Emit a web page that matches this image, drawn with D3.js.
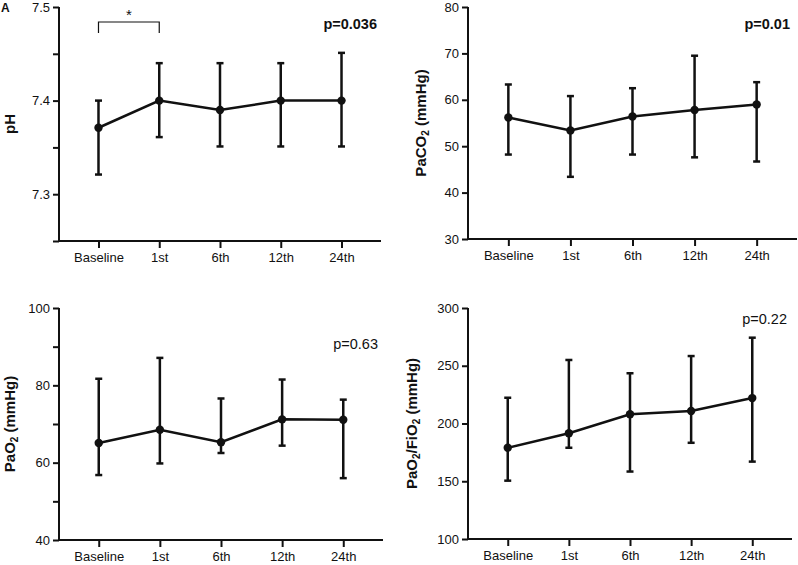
<!DOCTYPE html>
<html><head><meta charset="utf-8">
<script src="https://cdn.jsdelivr.net/npm/d3@7/dist/d3.min.js"></script>
<style>
body{margin:0;background:#fff;}
text{font-family:"Liberation Sans",Arial,Helvetica,sans-serif;}
</style></head>
<body><svg id="c" width="798" height="565"></svg>
<script>
const categories = ["Baseline","1st","6th","12th","24th"];

const phMean = [7.371,7.40,7.39,7.40,7.40];
const phLow  = [7.321,7.361,7.351,7.351,7.351];
const phHigh = [7.40,7.44,7.44,7.44,7.451];

const paco2Mean = [56.2,53.4,56.4,57.8,59.0];
const paco2Low  = [48.2,43.4,48.2,47.6,46.7];
const paco2High = [63.3,60.8,62.5,69.5,63.8];

const pao2Mean = [65.1,68.5,65.3,71.2,71.1];
const pao2Low  = [56.8,59.8,62.5,64.4,56.0];
const pao2High = [81.7,87.1,76.6,81.5,76.3];

const pfMean = [179,191.5,208,210.8,222];
const pfLow  = [150.5,179,158.4,183.3,167];
const pfHigh = [222.3,255,243.5,258.4,274.3];

const phTicks = [7.25,7.3,7.35,7.4,7.45,7.5];
const phLabels = [7.3,7.4,7.5];
const paco2Ticks = [30,40,50,60,70,80];
const pao2Ticks = [40,50,60,70,80,90,100];
const pao2Labels = [40,60,80,100];
const pfTicks = [100,150,200,250,300];

const svg = d3.select("#c");

const panels = [
  {mean:phMean, low:phLow, high:phHigh, domain:[7.25,7.5], ticks:phTicks, labels:phLabels, fmt:d3.format(".1f"),
   x:[59,381], y:[241,7], ylab:["pH"], ylabX:13, p:"p=0.036", pBold:true, pX:377, pY:29, sig:true},
  {mean:paco2Mean, low:paco2Low, high:paco2High, domain:[30,80], ticks:paco2Ticks, labels:paco2Ticks, fmt:d3.format("d"),
   x:[468,797], y:[239,7], ylab:["PaCO","2"," (mmHg)"], ylabX:424, p:"p=0.01", pBold:true, pX:790, pY:29},
  {mean:pao2Mean, low:pao2Low, high:pao2High, domain:[40,100], ticks:pao2Ticks, labels:pao2Labels, fmt:d3.format("d"),
   x:[59,383], y:[540,308], ylab:["PaO","2"," (mmHg)"], ylabX:13, p:"p=0.63", pBold:false, pX:378, pY:349},
  {mean:pfMean, low:pfLow, high:pfHigh, domain:[100,300], ticks:pfTicks, labels:pfTicks, fmt:d3.format("d"),
   x:[468,792], y:[539,308], ylab:["PaO","2","/FiO","2"," (mmHg)"], ylabX:415, p:"p=0.22", pBold:false, pX:787, pY:324}
];

panels.forEach(P => {
  const g = svg.append("g");
  const xs = d3.scalePoint().domain(categories).range(P.x).padding(0.65);
  const ys = d3.scaleLinear().domain(P.domain).range(P.y);

  const ya = g.append("g").attr("transform",`translate(${P.x[0]},0)`)
    .call(d3.axisLeft(ys).tickValues(P.ticks).tickSize(6).tickSizeOuter(0).tickPadding(3)
      .tickFormat(d => P.labels.some(l => Math.abs(l-d)<1e-9) ? P.fmt(d) : ""));
  const xa = g.append("g").attr("transform",`translate(0,${P.y[0]})`)
    .call(d3.axisBottom(xs).tickSize(7).tickSizeOuter(0).tickPadding(5));
  [ya,xa].forEach(a => {
    a.selectAll("path.domain").attr("stroke","#111").attr("stroke-width",2);
    a.selectAll(".tick line").attr("stroke","#111").attr("stroke-width",2);
    a.selectAll(".tick text").attr("fill","#111").style("font-size","13px")
      .style("font-family",'"Liberation Sans",Arial,sans-serif');
  });
  ya.select("path.domain").attr("d",`M0,${P.y[1]}V${P.y[0]+1}`);
  xa.select("path.domain").attr("d",`M${P.x[0]-1},0H${P.x[1]}`);

  const line = d3.line().x((d,i)=>xs(categories[i])).y(d=>ys(d));
  g.append("path").datum(P.mean).attr("d",line).attr("fill","none")
    .attr("stroke","#111").attr("stroke-width",2.5);

  const eb = g.selectAll(".eb").data(categories).enter().append("g");
  eb.append("line").attr("x1",d=>xs(d)).attr("x2",d=>xs(d))
    .attr("y1",(d,i)=>ys(P.low[i])).attr("y2",(d,i)=>ys(P.high[i]))
    .attr("stroke","#111").attr("stroke-width",2.5);
  ["low","high"].forEach(k => {
    eb.append("line").attr("x1",d=>xs(d)-3.5).attr("x2",d=>xs(d)+3.5)
      .attr("y1",(d,i)=>ys(P[k][i])).attr("y2",(d,i)=>ys(P[k][i]))
      .attr("stroke","#111").attr("stroke-width",2.5);
  });
  eb.append("circle").attr("cx",d=>xs(d)).attr("cy",(d,i)=>ys(P.mean[i])).attr("r",4.2).attr("fill","#111");

  const yc = (P.y[0]+P.y[1])/2;
  const t = g.append("text").attr("transform",`translate(${P.ylabX+5},${yc}) rotate(-90)`)
    .attr("text-anchor","middle").style("font-size","15px").style("font-weight","bold").attr("fill","#111");
  P.ylab.forEach(s => {
    if (s === "2") t.append("tspan").text(s).style("font-size","10px").attr("dy","3");
    else t.append("tspan").text(s).attr("dy", t.selectAll("tspan").size() ? "-3" : "0");
  });

  g.append("text").attr("x",P.pX).attr("y",P.pY).attr("text-anchor","end")
    .style("font-size","14.5px").style("font-weight",P.pBold?"bold":"normal").attr("fill","#111").text(P.p);

  if (P.sig) {
    const x0 = xs(categories[0]), x1 = xs(categories[1]);
    g.append("path").attr("d",`M${x0},33V22H${x1}V33`).attr("fill","none").attr("stroke","#111").attr("stroke-width",1.2);
    g.append("text").attr("x",(x0+x1)/2).attr("y",20).attr("text-anchor","middle")
      .style("font-size","15px").attr("fill","#111").text("*");
  }
});

svg.append("text").attr("x",1).attr("y",12).style("font-size","12px").style("font-weight","bold").attr("fill","#111").text("A");
</script></body></html>
